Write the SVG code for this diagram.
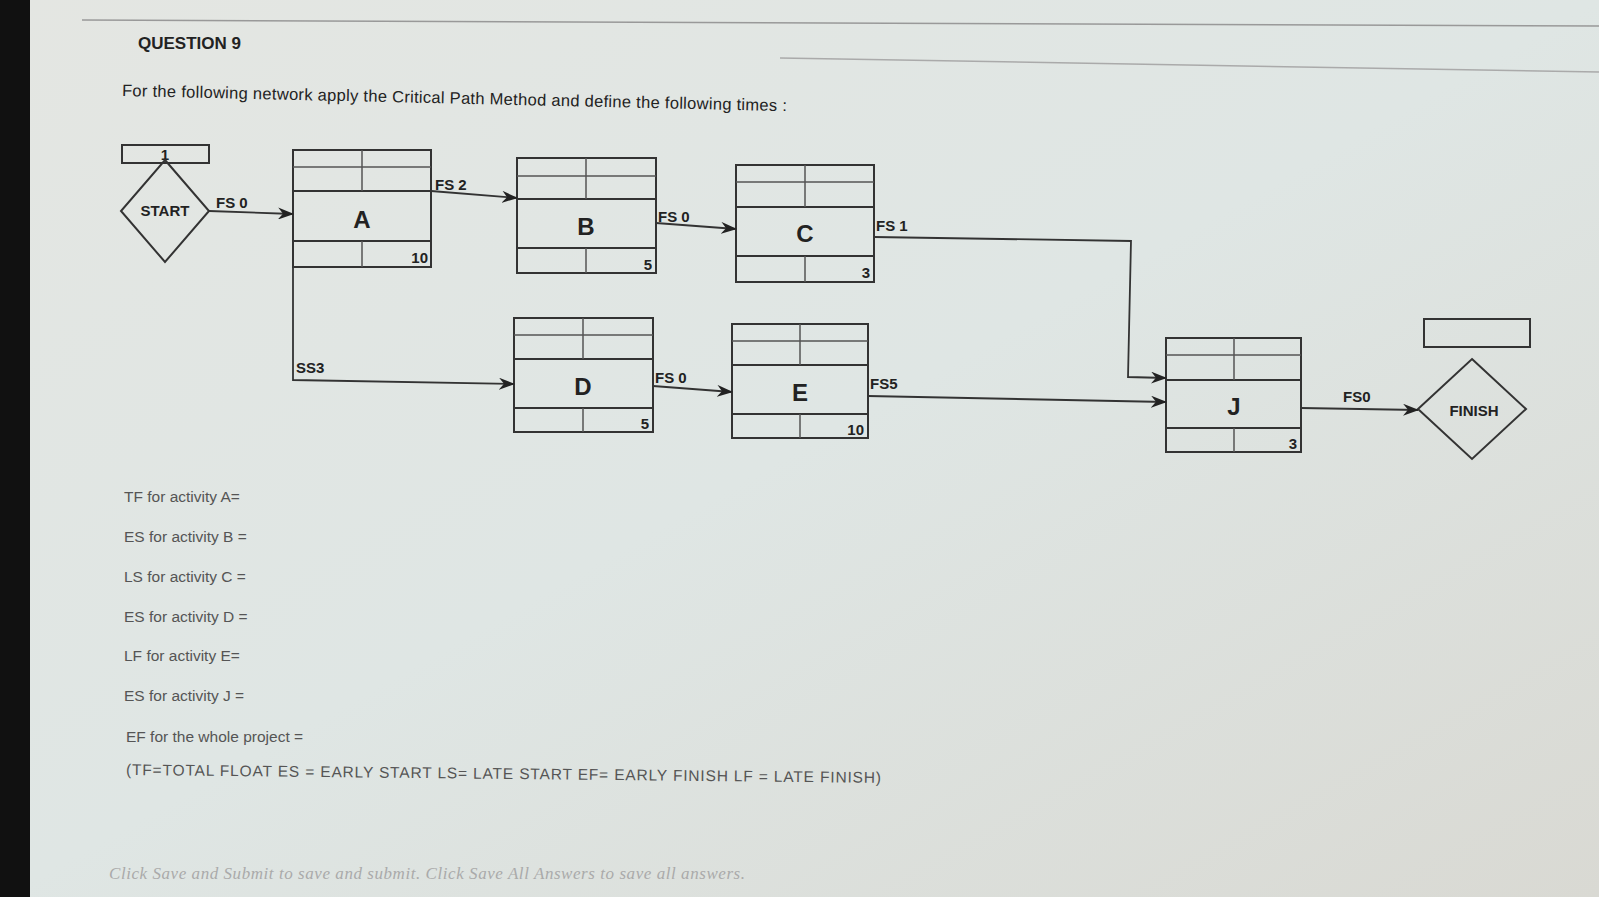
<svg xmlns="http://www.w3.org/2000/svg" width="1599" height="897" viewBox="0 0 1599 897">
<defs>
<linearGradient id="bg" x1="0" y1="0" x2="1" y2="1"><stop offset="0" stop-color="#e4e6e2"/><stop offset="0.5" stop-color="#dfe6e4"/><stop offset="1" stop-color="#d9d9d3"/></linearGradient>
<marker id="ar" viewBox="0 0 16 12" refX="15" refY="6" markerWidth="16" markerHeight="12" markerUnits="userSpaceOnUse" orient="auto"><path d="M0,0 L16,6 L0,12 L5,6 Z" fill="#222"/></marker>
</defs>
<style>
.b{fill:none;stroke:#333;stroke-width:2}
.t{stroke:#555;stroke-width:1.5}
.c{fill:none;stroke:#333;stroke-width:1.8;marker-end:url(#ar)}
.lb{font-family:"Liberation Sans",Arial,sans-serif;font-weight:bold;font-size:15px;fill:#222}
.big{font-family:"Liberation Sans",Arial,sans-serif;font-weight:bold;font-size:24px;fill:#222;text-anchor:middle}
.num{font-family:"Liberation Sans",Arial,sans-serif;font-weight:bold;font-size:15px;fill:#222;text-anchor:end}
.q{font-family:"Liberation Sans",Arial,sans-serif;font-size:15.5px;fill:#555}
</style>
<rect width="1599" height="897" fill="url(#bg)"/>
<rect x="0" y="0" width="30" height="897" fill="#111"/>
<line x1="82" y1="20" x2="1599" y2="26" stroke="#999" stroke-width="1.5"/>
<line x1="780" y1="58" x2="1599" y2="72" stroke="#aaa" stroke-width="1.5"/>
<text x="138" y="49" font-family="Liberation Sans,Arial,sans-serif" font-weight="bold" font-size="17" fill="#222">QUESTION 9</text>
<text x="122" y="96" font-family="Liberation Sans,Arial,sans-serif" font-size="16.5" fill="#222" textLength="665" transform="rotate(1.3 122 96)">For the following network apply the Critical Path Method and define the following times :</text>

<g id="start">
<rect x="122" y="145" width="87" height="18" class="b"/>
<text x="165" y="160" class="lb" text-anchor="middle">1</text>
<polygon points="165,160 209,211 165,262 121,211" class="b"/>
<text x="165" y="216" class="lb" font-size="13" text-anchor="middle">START</text>
</g>
<g id="A"><rect x="293" y="150" width="138" height="117" class="b"/>
<line x1="293" y1="167" x2="431" y2="167" class="t"/><line x1="293" y1="191" x2="431" y2="191" class="b"/><line x1="293" y1="241" x2="431" y2="241" class="b"/>
<line x1="362" y1="150" x2="362" y2="191" class="t"/><line x1="362" y1="241" x2="362" y2="267" class="t"/>
<text x="362" y="228" class="big">A</text><text x="428" y="263" class="num">10</text></g>
<g id="B"><rect x="517" y="158" width="139" height="115" class="b"/>
<line x1="517" y1="176" x2="656" y2="176" class="t"/><line x1="517" y1="199" x2="656" y2="199" class="b"/><line x1="517" y1="248" x2="656" y2="248" class="b"/>
<line x1="586" y1="158" x2="586" y2="199" class="t"/><line x1="586" y1="248" x2="586" y2="273" class="t"/>
<text x="586" y="235" class="big">B</text><text x="652" y="270" class="num">5</text></g>
<g id="C"><rect x="736" y="165" width="138" height="117" class="b"/>
<line x1="736" y1="182" x2="874" y2="182" class="t"/><line x1="736" y1="207" x2="874" y2="207" class="b"/><line x1="736" y1="256" x2="874" y2="256" class="b"/>
<line x1="805" y1="165" x2="805" y2="207" class="t"/><line x1="805" y1="256" x2="805" y2="282" class="t"/>
<text x="805" y="242" class="big">C</text><text x="870" y="278" class="num">3</text></g>
<g id="D"><rect x="514" y="318" width="139" height="114" class="b"/>
<line x1="514" y1="335" x2="653" y2="335" class="t"/><line x1="514" y1="359" x2="653" y2="359" class="b"/><line x1="514" y1="408" x2="653" y2="408" class="b"/>
<line x1="583" y1="318" x2="583" y2="359" class="t"/><line x1="583" y1="408" x2="583" y2="432" class="t"/>
<text x="583" y="395" class="big">D</text><text x="649" y="429" class="num">5</text></g>
<g id="E"><rect x="732" y="324" width="136" height="114" class="b"/>
<line x1="732" y1="341" x2="868" y2="341" class="t"/><line x1="732" y1="365" x2="868" y2="365" class="b"/><line x1="732" y1="414" x2="868" y2="414" class="b"/>
<line x1="800" y1="324" x2="800" y2="365" class="t"/><line x1="800" y1="414" x2="800" y2="438" class="t"/>
<text x="800" y="401" class="big">E</text><text x="864" y="435" class="num">10</text></g>
<g id="J"><rect x="1166" y="338" width="135" height="114" class="b"/>
<line x1="1166" y1="355" x2="1301" y2="355" class="t"/><line x1="1166" y1="380" x2="1301" y2="380" class="b"/><line x1="1166" y1="428" x2="1301" y2="428" class="b"/>
<line x1="1234" y1="338" x2="1234" y2="380" class="t"/><line x1="1234" y1="428" x2="1234" y2="452" class="t"/>
<text x="1234" y="415" class="big" font-size="22">J</text><text x="1297" y="449" class="num">3</text></g>
<g id="finish">
<rect x="1424" y="319" width="106" height="28" class="b"/>
<polygon points="1472,359 1526,409 1472,459 1418,409" class="b"/>
<text x="1474" y="416" class="lb" font-size="11" text-anchor="middle">FINISH</text>
</g>
<g id="connectors">
<path d="M209,211 L293,214" class="c"/><text x="216" y="208" class="lb">FS 0</text>
<path d="M431,191 L517,198" class="c"/><text x="435" y="190" class="lb">FS 2</text>
<path d="M656,223 L736,229" class="c"/><text x="658" y="222" class="lb">FS 0</text>
<path d="M874,237 L1131,241 L1128,377 L1166,378" class="c"/><text x="876" y="231" class="lb">FS 1</text>
<path d="M293,267 L293,380 L514,384" class="c"/><text x="296" y="373" class="lb">SS3</text>
<path d="M653,386 L732,392" class="c"/><text x="655" y="383" class="lb">FS 0</text>
<path d="M868,396 L1166,402" class="c"/><text x="870" y="389" class="lb">FS5</text>
<path d="M1301,408 L1418,410" class="c"/><text x="1343" y="402" class="lb">FS0</text>
</g>
<g id="questions">
<text x="124" y="502" class="q">TF for activity A=</text>
<text x="124" y="542" class="q">ES for activity B =</text>
<text x="124" y="582" class="q">LS for activity C =</text>
<text x="124" y="622" class="q">ES for activity D =</text>
<text x="124" y="661" class="q">LF for activity E=</text>
<text x="124" y="701" class="q">ES for activity J =</text>
<text x="126" y="742" class="q">EF for the whole project =</text>
<text x="126" y="775" class="q" textLength="755" transform="rotate(0.6 126 775)">(TF=TOTAL FLOAT  ES = EARLY START  LS= LATE START  EF= EARLY FINISH  LF = LATE FINISH)</text>
<text x="109" y="879" font-family="Liberation Serif,serif" font-style="italic" font-size="17" fill="#aaa" textLength="636">Click Save and Submit to save and submit. Click Save All Answers to save all answers.</text>
</g>
</svg>
